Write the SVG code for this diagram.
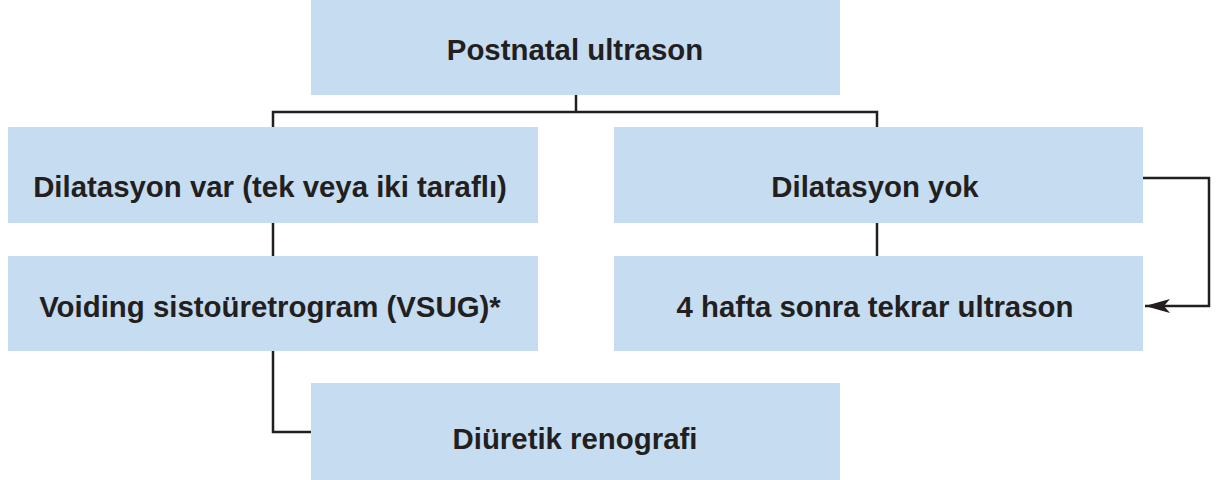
<svg xmlns="http://www.w3.org/2000/svg" width="1216" height="480" viewBox="0 0 1216 480">
<style>
.box{fill:#c6dcf0}
.t{font-family:"Liberation Sans",Arial,sans-serif;font-weight:bold;font-size:29.4px;fill:#231f20;text-anchor:middle;dominant-baseline:central}
.c{fill:none;stroke:#231f20;stroke-width:2.5}
</style>
<defs>
<marker id="ah" markerUnits="userSpaceOnUse" markerWidth="26" markerHeight="14" refX="25" refY="7" orient="auto">
<path d="M0,0 L25,7 L0,14 L6,7 Z" fill="#231f20"/>
</marker>
</defs>
<rect width="1216" height="480" fill="#fff"/>
<g id="connectors">
<path class="c" d="M576,95 V112 M273,127 V112 H877 V127"/>
<path class="c" d="M273,223 V256"/>
<path class="c" d="M877,223 V256"/>
<path class="c" d="M273,351 V432 H311"/>
<path class="c" d="M1143,178 H1209 V306 H1145" marker-end="url(#ah)"/>
</g>
<g id="n1"><rect class="box" x="311" y="0" width="529" height="95"/><text class="t" x="575" y="49">Postnatal ultrason</text></g>
<g id="n2"><rect class="box" x="8" y="127" width="530" height="96"/><text class="t" x="270" y="186">Dilatasyon var (tek veya iki taraflı)</text></g>
<g id="n3"><rect class="box" x="614" y="127" width="529" height="96"/><text class="t" x="875" y="186">Dilatasyon yok</text></g>
<g id="n4"><rect class="box" x="8" y="256" width="530" height="95"/><text class="t" x="270" y="306">Voiding sistoüretrogram (VSUG)*</text></g>
<g id="n5"><rect class="box" x="614" y="256" width="529" height="95"/><text class="t" x="875" y="306">4 hafta sonra tekrar ultrason</text></g>
<g id="n6"><rect class="box" x="311" y="383" width="529" height="97"/><text class="t" x="575" y="438">Diüretik renografi</text></g>
</svg>
